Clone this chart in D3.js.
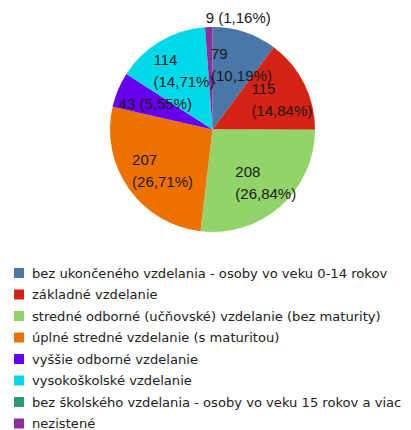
<!DOCTYPE html>
<html>
<head>
<meta charset="utf-8">
<script src="https://cdn.jsdelivr.net/npm/d3@7"></script>
<style>
  body { margin: 0; background: #fff; }
  svg { display: block; }
</style>
</head>
<body>
<div id="chart"></div>
<script>
// Data
const categories = [
    'bez ukončeného vzdelania - osoby vo veku 0-14 rokov',
    'základné vzdelanie',
    'stredné odborné (učňovské) vzdelanie (bez maturity)',
    'úplné stredné vzdelanie (s maturitou)',
    'vyššie odborné vzdelanie',
    'vysokoškolské vzdelanie',
    'bez školského vzdelania - osoby vo veku 15 rokov a viac',
    'nezistené'
];
const values = [79, 115, 208, 207, 43, 114, 0, 9];
const colors = ['#4A76A8', '#D42215', '#92D36A', '#EE7100', '#6600EE', '#00D9E9', '#2F9778', '#8B2F9A'];

const width = 411, height = 430;
const cx = 212.5, cy = 129.5, radius = 102.5;

const svg = d3.select('#chart')
    .append('svg')
    .attr('width', width)
    .attr('height', height);

const total = d3.sum(values);
const fmt = v => (v / total * 100).toFixed(2).replace('.', ',') + '%';

const pie = d3.pie().sort(null).value(d => d.value);
const arcs = pie(values.map((v, i) => ({ value: v, name: categories[i], color: colors[i] })));

const arc = d3.arc().innerRadius(0).outerRadius(radius);
const labelArc = d3.arc().innerRadius(radius * 0.68).outerRadius(radius * 0.68);

const g = svg.append('g').attr('transform', `translate(${cx},${cy})`);

g.selectAll('path')
    .data(arcs)
    .enter()
    .append('path')
    .attr('d', arc)
    .style('fill', d => d.data.color);

// Slice labels, left aligned blocks
const labelFont = '15px "Liberation Sans", sans-serif';
const lineH = 22;
arcs.filter(d => d.value > 0).forEach(d => {
    const share = d.value / total;
    let lines, x, y;
    if (share < 0.02) {
        // tiny slice: label outside above
        lines = [`${d.value} (${fmt(d.value)})`];
        const a = (d.startAngle + d.endAngle) / 2;
        x = Math.sin(a) * radius - 3;
        y = -Math.cos(a) * radius - 9;
    } else {
        lines = share < 0.08
            ? [`${d.value} (${fmt(d.value)})`]
            : [`${d.value}`, `(${fmt(d.value)})`];
        const c = labelArc.centroid(d);
        const t = g.append('text').style('font', labelFont)
            .text(lines[lines.length - 1]);
        const w = t.node().getComputedTextLength();
        t.remove();
        x = c[0] - w / 2 + 7;
        y = c[1] - (lines.length - 1) * lineH / 2 + 1;
    }
    const t = g.append('text')
        .attr('x', x)
        .attr('y', y)
        .style('font', labelFont)
        .style('fill', '#1a1a1a');
    lines.forEach((l, i) => {
        t.append('tspan').attr('x', x).attr('dy', i === 0 ? '0.35em' : lineH).text(l);
    });
});

// Legend
const legend = svg.append('g').attr('transform', 'translate(14,273)');
const item = legend.selectAll('g')
    .data(categories)
    .enter()
    .append('g')
    .attr('transform', (d, i) => `translate(0,${i * 21.5})`);

item.append('rect')
    .attr('x', 0)
    .attr('y', -5)
    .attr('width', 10)
    .attr('height', 10)
    .style('fill', (d, i) => colors[i]);

item.append('text')
    .attr('x', 18)
    .attr('dy', '0.35em')
    .style('font', '13.1px "DejaVu Sans", sans-serif')
    .style('fill', '#222')
    .text(d => d);
</script>
</body>
</html>
